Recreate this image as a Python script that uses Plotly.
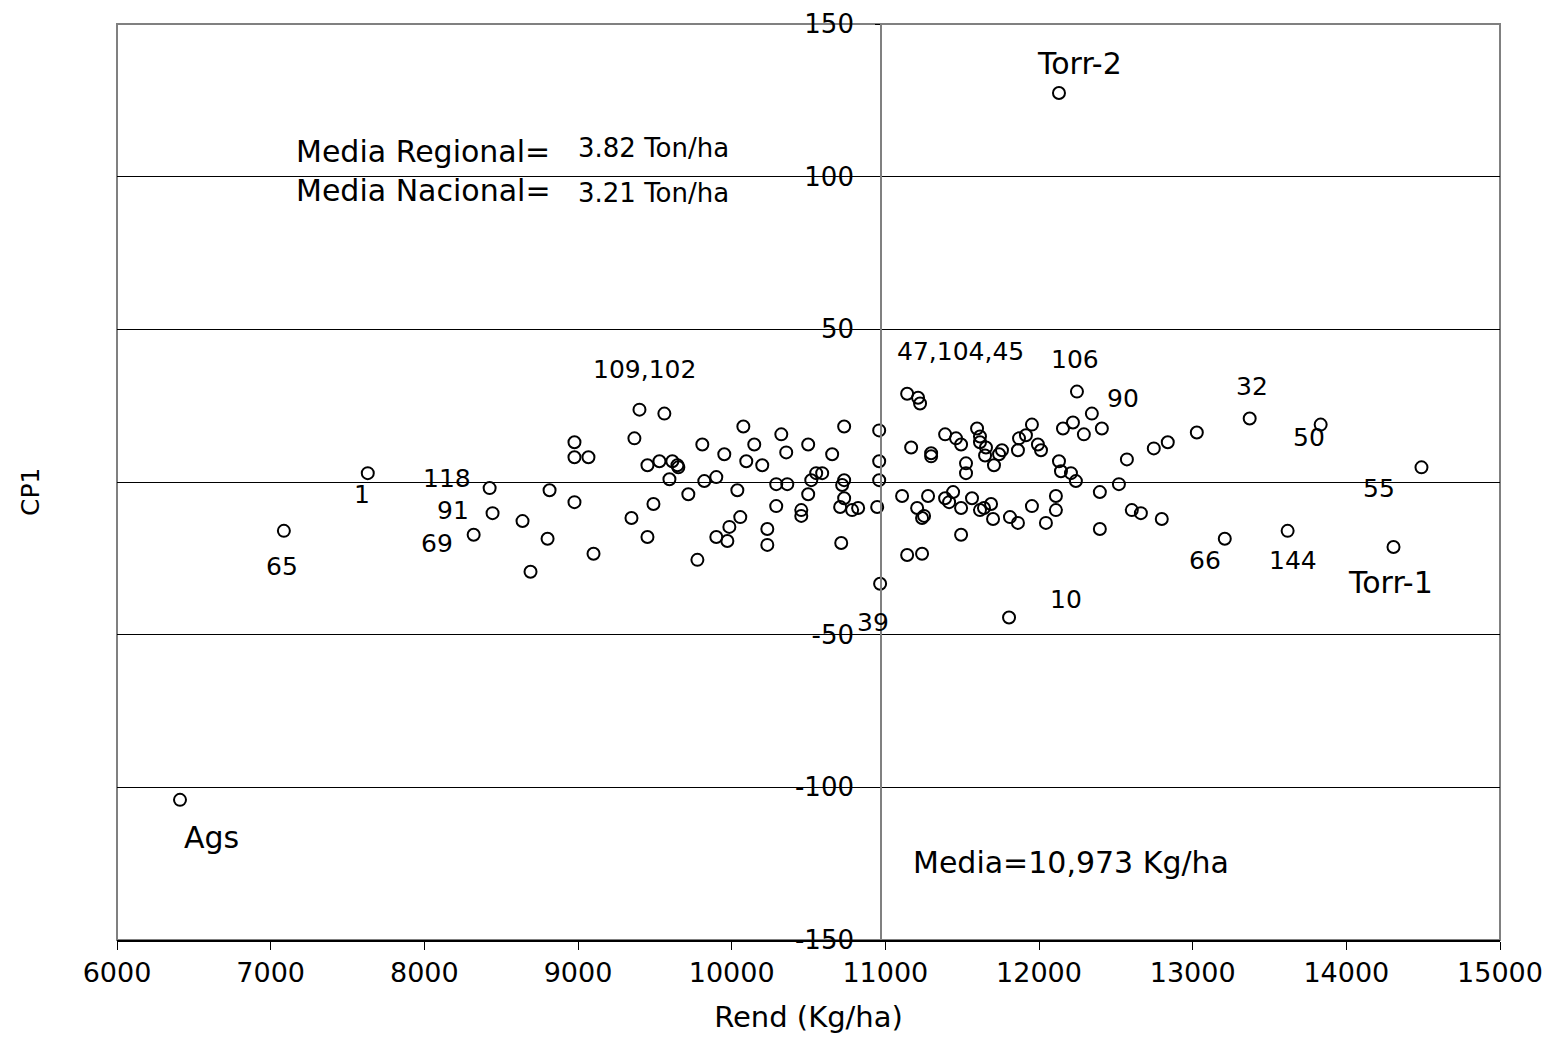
import plotly.graph_objects as go

# Rendimiento (Kg/ha) and CP1 scores for each genotype/locality
rend = [6410, 7086, 7632, 8425, 8444, 8321, 8639, 8802, 8691, 8815,
        9400, 9562, 8977, 9367, 8977, 9068, 10076, 10323, 10732, 10960,
        9809, 10147, 10498, 9952, 10355, 10654, 9452, 9530, 9614, 9647,
        9653, 10095, 10199, 10960, 10550, 10589, 9595, 9822, 9900, 10290,
        10362, 10518, 10732, 10719, 10960, 9718, 10037, 8977, 9491, 10498,
        10732, 10706, 10290, 10453, 10453, 10784, 10823, 10947, 9348, 10056,
        9985, 10232, 9452, 9900, 9972, 10232, 10713, 9101, 9777, 10966,
        11142, 11213, 11226, 12247, 11168, 11298, 11298, 11389, 11460, 11493,
        11525, 11525, 11597, 11616, 11616, 11655, 11649, 11707, 11740, 11759,
        11863, 11870, 11915, 11954, 11993, 12013, 12130, 12143, 12208, 12240,
        12156, 12221, 12292, 12344, 12409, 12572, 12747, 12838, 13027, 12520,
        12396, 11109, 11278, 11207, 11252, 11239, 11389, 11441, 11415, 11493,
        11564, 11616, 11642, 11688, 11701, 11811, 11863, 11954, 12045, 12110,
        12110, 12396, 12604, 12663, 12799, 11493, 11142, 11239, 13371, 13833,
        14489, 13209, 13618, 14307, 11805, 12130]
cp1 = [-104.1, -16.0, 2.9, -2.0, -10.2, -17.3, -12.8, -18.6, -29.4, -2.7,
       23.7, 22.4, 13.0, 14.3, 8.1, 8.1, 18.2, 15.6, 18.2, 16.9,
       12.3, 12.3, 12.3, 9.1, 9.7, 9.1, 5.5, 6.8, 6.8, 5.5,
       4.8, 6.8, 5.5, 6.8, 2.9, 2.9, 0.9, 0.3, 1.6, -0.7,
       -0.7, 0.6, 0.6, -1.0, 0.6, -4.0, -2.7, -6.6, -7.2, -4.0,
       -5.3, -8.2, -7.9, -9.2, -11.1, -9.2, -8.5, -8.2, -11.8, -11.5,
       -14.7, -15.4, -18.0, -18.0, -19.3, -20.6, -20.0, -23.5, -25.5, -33.3,
       28.9, 27.6, 25.7, 29.6, 11.3, 9.4, 8.4, 15.6, 14.3, 12.3,
       6.1, 2.9, 17.5, 14.9, 13.0, 11.3, 8.7, 5.5, 9.1, 10.4,
       10.4, 14.3, 15.3, 18.8, 12.3, 10.4, 6.8, 3.5, 2.9, 0.3,
       17.5, 19.5, 15.6, 22.4, 17.5, 7.4, 11.0, 13.0, 16.2, -0.7,
       -3.3, -4.6, -4.6, -8.5, -11.1, -11.8, -5.3, -3.3, -6.6, -8.5,
       -5.3, -9.2, -8.5, -7.2, -12.1, -11.5, -13.4, -7.9, -13.4, -4.6,
       -9.2, -15.4, -9.2, -10.2, -12.1, -17.3, -23.9, -23.5, 20.8, 18.8,
       4.8, -18.6, -16.0, -21.3, -44.4, 127.4]

# Point labels
label_text = ["Torr-2", "109,102", "47,104,45", "106", "90", "32", "50", "55",
              "Torr-1", "144", "66", "10", "39", "Ags", "65", "1", "118", "91", "69"]
label_x = [12266, 9432, 11492, 12234, 12546, 13384, 13755, 14210,
           14288, 13651, 13079, 12175, 10920, 6618, 7073, 7593, 8146, 8185, 8081]
label_y = [137.2, 36.7, 42.6, 40.0, 27.3, 31.2, 14.6, -2.0,
           -33.0, -25.8, -25.8, -38.5, -46.0, -116.5, -27.6, -4.0, 1.2, -9.2, -20.3]
label_size = [30, 25, 25, 25, 25, 25, 25, 25,
              30, 25, 25, 25, 25, 30, 25, 25, 25, 25, 25]

x_ticks = [6000, 7000, 8000, 9000, 10000, 11000, 12000, 13000, 14000, 15000]
x_ticktext = ["6000", "7000", "8000", "9000", "10000", "11000", "12000", "13000", "14000", "15000"]
y_ticks = [-150, -100, -50, 0, 50, 100, 150]
y_ticktext = ["-150", "-100", "-50", "", "50", "100", "150"]
media = 10973

FONT = "DejaVu Sans"

fig = go.Figure()
fig.add_trace(go.Scatter(
    x=rend, y=cp1, mode="markers",
    marker=dict(symbol="circle-open", size=12, color="black", line=dict(width=2)),
    showlegend=False, hoverinfo="x+y"))

for t, x, y, s in zip(label_text, label_x, label_y, label_size):
    fig.add_annotation(x=x, y=y, text=t, showarrow=False,
                       font=dict(family=FONT, size=s, color="black"),
                       xanchor="center", yanchor="middle")

# Reference texts
fig.add_annotation(x=7151, y=108.4, text="Media Regional=", showarrow=False,
                   font=dict(family=FONT, size=30, color="black"), xanchor="left", yanchor="middle")
fig.add_annotation(x=8990, y=109.3, text="3.82 Ton/ha", showarrow=False,
                   font=dict(family=FONT, size=26, color="black"), xanchor="left", yanchor="middle")
fig.add_annotation(x=7151, y=95.4, text="Media Nacional=", showarrow=False,
                   font=dict(family=FONT, size=30, color="black"), xanchor="left", yanchor="middle")
fig.add_annotation(x=8990, y=94.8, text="3.21 Ton/ha", showarrow=False,
                   font=dict(family=FONT, size=26, color="black"), xanchor="left", yanchor="middle")
fig.add_annotation(x=11168, y=-124.6, text="Media=10,973 Kg/ha", showarrow=False,
                   font=dict(family=FONT, size=30, color="black"), xanchor="left", yanchor="middle")

# Y axis title placed at the far left
fig.add_annotation(xref="paper", yref="paper", x=-0.063, y=0.489, text="CP1", textangle=-90,
                   showarrow=False, font=dict(family=FONT, size=25, color="black"),
                   xanchor="center", yanchor="middle")

# Gray frame (left, top, right)
fig.add_shape(type="rect", xref="paper", yref="paper", x0=0, y0=0, x1=1, y1=1,
              line=dict(color="#808080", width=2), layer="below")

fig.update_layout(
    width=1560, height=1042,
    margin=dict(l=109, r=68, t=16, b=110, autoexpand=False),
    plot_bgcolor="white", paper_bgcolor="white",
    font=dict(family=FONT, color="black"),
    xaxis=dict(range=[6000, 15000], tickvals=x_ticks, ticktext=x_ticktext,
               showgrid=False, zeroline=False, automargin=False,
               showline=True, linecolor="black", linewidth=1.5,
               ticks="outside", ticklen=8, tickcolor="black",
               tickfont=dict(family=FONT, size=27),
               title=dict(text="Rend (Kg/ha)", font=dict(family=FONT, size=29), standoff=20)),
    yaxis=dict(range=[-150, 150], tickvals=y_ticks, ticktext=y_ticktext,
               showgrid=True, gridcolor="black", gridwidth=1, automargin=False,
               zeroline=True, zerolinecolor="black", zerolinewidth=1,
               anchor="free", position=(media - 6000) / 9000,
               showline=True, linecolor="#808080", linewidth=2,
               ticks="outside", ticklen=5, tickcolor="black", ticklabelstandoff=16,
               ticklabeloverflow="allow",
               tickfont=dict(family=FONT, size=26)),
)

fig.write_html("out.html")
